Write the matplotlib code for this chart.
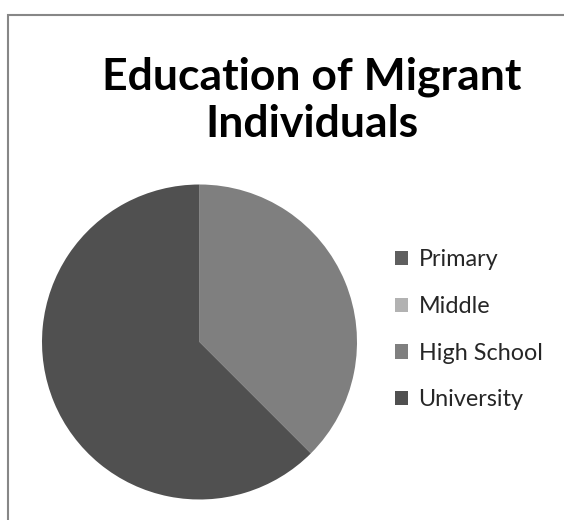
import matplotlib
matplotlib.use("Agg")
import matplotlib.pyplot as plt
from matplotlib.patches import Rectangle, Patch

categories = ["Primary", "Middle", "High School", "University"]
values = [0.0, 0.0, 37.5, 62.5]
colors = ["#5f5f5f", "#b2b2b2", "#7f7f7f", "#505050"]
title_lines = ["Education of Migrant", "Individuals"]

W, H = 564, 520
fig = plt.figure(figsize=(W / 100, H / 100), dpi=100)
fig.patch.set_facecolor("white")

# outer chart frame (cropped at right/bottom)
fig.patches.append(Rectangle((7.5 / W, -0.1), 1.2, (H - 14.5) / H + 0.1,
                             transform=fig.transFigure, fill=False,
                             edgecolor="#878787", linewidth=1.5))

ax = fig.add_axes([42 / W, 20.5 / H, 315 / W, 315 / H])
wedges, _ = ax.pie(values, colors=colors, startangle=90, counterclock=False,
                   radius=1.0, wedgeprops=dict(linewidth=0))
ax.set_xlim(-1, 1)
ax.set_ylim(-1, 1)
ax.set_aspect("equal")
ax.axis("off")

for line, base in zip(title_lines, [89, 137]):
    fig.text(312 / W, 1 - base / H, line, ha="center", va="baseline",
             fontsize=32, fontweight="bold", family="Lato", color="black")

handles = [Patch(facecolor=c, edgecolor="none") for c in colors]
leg = fig.legend(handles, categories, loc="center left",
                 bbox_to_anchor=(395 / W, 1 - 330 / H), frameon=False,
                 prop={"family": "Lato", "size": 16.8}, labelcolor="#262626",
                 handlelength=0.56, handleheight=0.56, handletextpad=0.45,
                 labelspacing=1.1, borderpad=0, borderaxespad=0)

fig.savefig("out.png", dpi=100, facecolor="white")
